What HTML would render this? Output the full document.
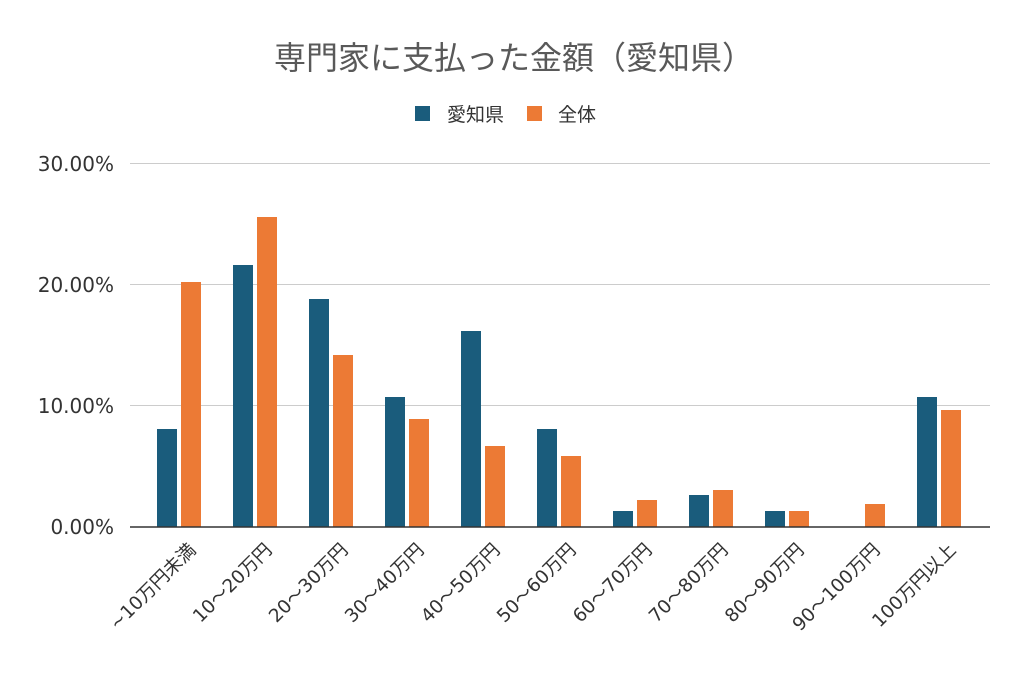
<!DOCTYPE html>
<html><head><meta charset="utf-8"><style>
body{margin:0;background:#fff}
svg text{font-family:"DejaVu Sans","Noto Sans CJK JP",sans-serif}
</style></head><body>
<svg width="1024" height="673" xmlns="http://www.w3.org/2000/svg">
<text x="514" y="69" text-anchor="middle" font-size="32" fill="#595959" style="font-family:'Liberation Sans','Noto Sans CJK JP',sans-serif">専門家に支払った金額（愛知県）</text>
<rect x="415" y="106" width="15" height="15" fill="#1a5c7c"/>
<text x="447" y="121" font-size="19" fill="#333" style="font-family:'Liberation Sans','Noto Sans CJK JP',sans-serif">愛知県</text>
<rect x="527" y="106" width="15" height="15" fill="#ec7a35"/>
<text x="558" y="121" font-size="19" fill="#333" style="font-family:'Liberation Sans','Noto Sans CJK JP',sans-serif">全体</text>
<g stroke="#ccc" stroke-width="1">
<line x1="130" y1="163.5" x2="990" y2="163.5"/>
<line x1="130" y1="284.5" x2="990" y2="284.5"/>
<line x1="130" y1="405.5" x2="990" y2="405.5"/>
</g>
<g font-size="20" fill="#333" text-anchor="end">
<text x="114" y="171">30.00%</text>
<text x="114" y="292">20.00%</text>
<text x="114" y="413">10.00%</text>
<text x="114" y="534">0.00%</text>
</g>
<g fill="#1a5c7c">
<rect x="157" y="429" width="20" height="98"/>
<rect x="233" y="265" width="20" height="262"/>
<rect x="309" y="299" width="20" height="228"/>
<rect x="385" y="397" width="20" height="130"/>
<rect x="461" y="331" width="20" height="196"/>
<rect x="537" y="429" width="20" height="98"/>
<rect x="613" y="511" width="20" height="16"/>
<rect x="689" y="495" width="20" height="32"/>
<rect x="765" y="511" width="20" height="16"/>
<rect x="917" y="397" width="20" height="130"/>
</g>
<g fill="#ec7a35">
<rect x="181" y="282" width="20" height="245"/>
<rect x="257" y="217" width="20" height="310"/>
<rect x="333" y="355" width="20" height="172"/>
<rect x="409" y="419" width="20" height="108"/>
<rect x="485" y="446" width="20" height="81"/>
<rect x="561" y="456" width="20" height="71"/>
<rect x="637" y="500" width="20" height="27"/>
<rect x="713" y="490" width="20" height="37"/>
<rect x="789" y="511" width="20" height="16"/>
<rect x="865" y="504" width="20" height="23"/>
<rect x="941" y="410" width="20" height="117"/>
</g>
<line x1="130" y1="527" x2="990" y2="527" stroke="#333" stroke-width="1.5"/>
<g font-size="18.5" fill="#333" text-anchor="end">
<text transform="translate(197,551) rotate(-45)">~10万円未満</text>
<text transform="translate(273,551) rotate(-45)">10～20万円</text>
<text transform="translate(349,551) rotate(-45)">20～30万円</text>
<text transform="translate(425,551) rotate(-45)">30～40万円</text>
<text transform="translate(501,551) rotate(-45)">40～50万円</text>
<text transform="translate(577,551) rotate(-45)">50～60万円</text>
<text transform="translate(653,551) rotate(-45)">60～70万円</text>
<text transform="translate(729,551) rotate(-45)">70～80万円</text>
<text transform="translate(805,551) rotate(-45)">80～90万円</text>
<text transform="translate(881,551) rotate(-45)">90～100万円</text>
<text transform="translate(957,551) rotate(-45)">100万円以上</text>
</g>
</svg>
</body></html>
